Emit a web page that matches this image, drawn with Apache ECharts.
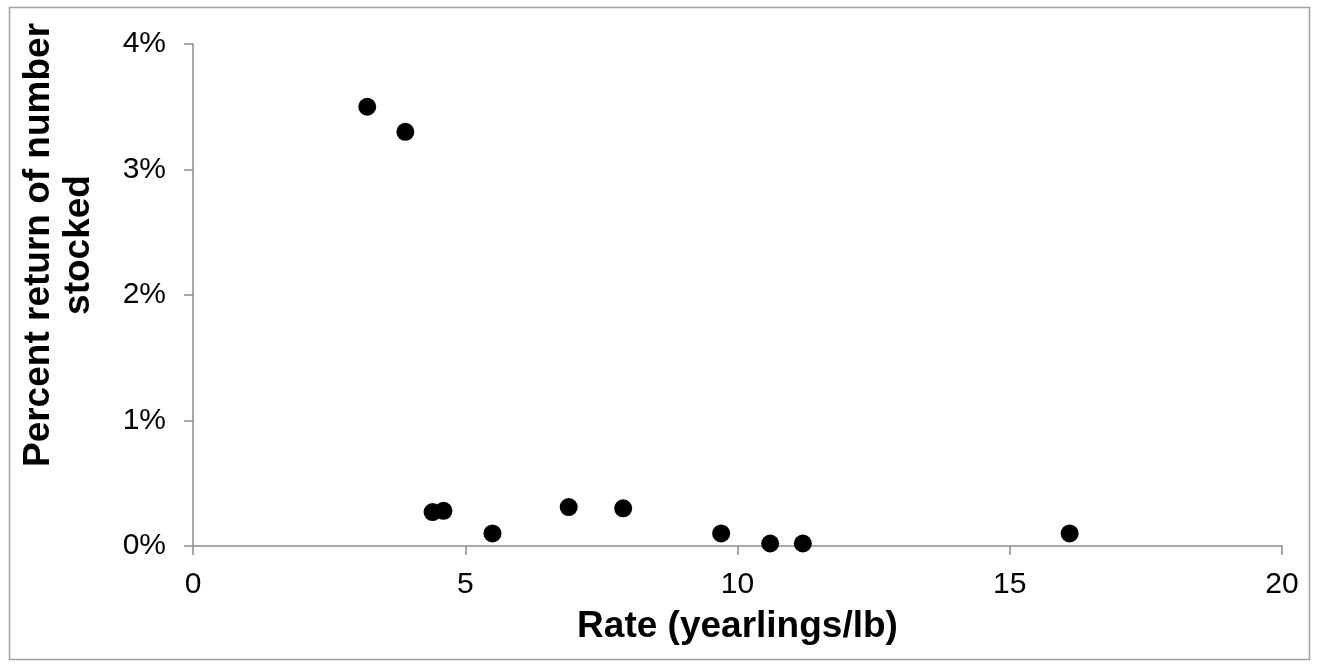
<!DOCTYPE html>
<html>
<head>
<meta charset="utf-8">
<script src="https://cdn.jsdelivr.net/npm/echarts@6/dist/echarts.min.js"></script>
<style>
  html, body { margin: 0; padding: 0; background: #fff; }
  #chart { width: 1319px; height: 667px; }
</style>
</head>
<body>
<div id="chart"></div>
<script>
// rate (yearlings/lb)
const rates = [3.2, 3.9, 4.4, 4.6, 5.5, 6.9, 7.9, 9.7, 10.6, 11.2, 16.1]
// percent return of number stocked (%)
const returns = [3.5, 3.3, 0.27, 0.28, 0.1, 0.31, 0.3, 0.1, 0.02, 0.02, 0.1]
const xTicks = [0, 5, 10, 15, 20]
const yTicks = [0, 1, 2, 3, 4]

const points = rates.map((r, i) => [r, returns[i]])

const myChart = echarts.init(document.getElementById('chart'))
const axisGrey = '#8c8c8c'
const font = 'Liberation Sans, Arial, sans-serif'

const option = {
  animation: false,
  graphic: [
    {
      type: 'rect',
      shape: { x: 9.5, y: 7.5, width: 1300, height: 652 },
      style: { fill: null, stroke: '#a0a0a0', lineWidth: 1.5 },
      silent: true
    }
  ],
  grid: { left: 193, right: 37, top: 44, bottom: 121 },
  xAxis: {
    type: 'value',
    min: xTicks[0],
    max: xTicks[xTicks.length - 1],
    interval: xTicks[1] - xTicks[0],
    name: 'Rate (yearlings/lb)',
    nameLocation: 'middle',
    nameGap: 62,
    nameMoveOverlap: false,
    nameTextStyle: { fontFamily: font, fontSize: 37, fontWeight: 'bold', color: '#000' },
    axisLine: { lineStyle: { color: axisGrey, width: 1.5 } },
    axisTick: { show: true, length: 9, lineStyle: { color: axisGrey, width: 1.5 } },
    axisLabel: { fontFamily: font, fontSize: 30, color: '#000', margin: 24 },
    splitLine: { show: false }
  },
  yAxis: {
    type: 'value',
    min: yTicks[0],
    max: yTicks[yTicks.length - 1],
    interval: yTicks[1] - yTicks[0],
    name: 'Percent return of number\nstocked',
    nameLocation: 'middle',
    nameGap: 94,
    nameMoveOverlap: false,
    nameTextStyle: {
      fontFamily: font,
      fontSize: 37,
      fontWeight: 'bold',
      color: '#000',
      lineHeight: 40,
      // nudge the rotated title up so it sits where the original does
      padding: [0, 0, 0, 100]
    },
    axisLine: { show: true, lineStyle: { color: axisGrey, width: 1.5 } },
    axisTick: { show: true, length: 9, lineStyle: { color: axisGrey, width: 1.5 } },
    axisLabel: { fontFamily: font, fontSize: 30, color: '#000', margin: 27, formatter: '{value}%' },
    splitLine: { show: false }
  },
  series: [
    {
      type: 'scatter',
      data: points,
      symbol: 'circle',
      symbolSize: 18,
      itemStyle: { color: '#000', opacity: 1 }
    }
  ]
}
myChart.setOption(option)
window.addEventListener('resize', function () {
  myChart.resize()
})
</script>
</body>
</html>
